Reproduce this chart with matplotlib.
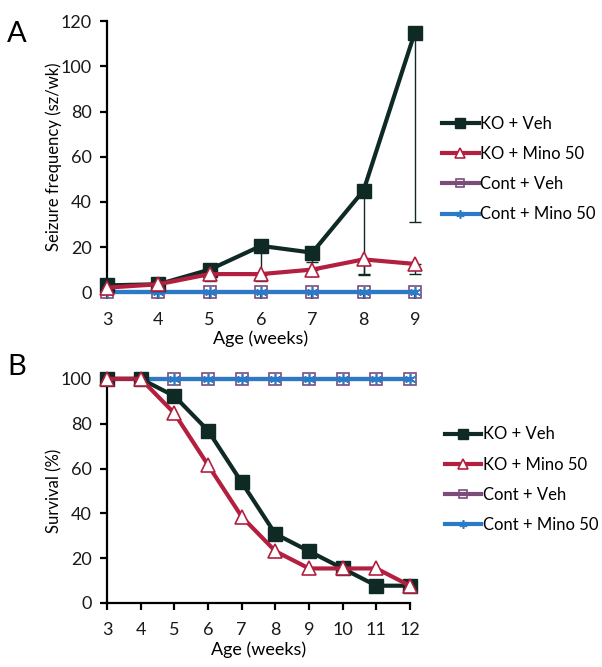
import matplotlib
matplotlib.use("Agg")
from matplotlib import pyplot as plt
import numpy as np

plt.rcParams['font.family'] = ['Lato', 'DejaVu Sans']

# panel A: seizure frequency
weeksA = [3, 4, 5, 6, 7, 8, 9]
koVehA = [3, 3.5, 10, 20.5, 17.5, 45, 115]
koVehA_err = [1, 1, 2, 13, 4, 37, 84]
koMinoA = [2, 3.5, 8, 8, 10, 14.5, 12.5]
koMinoA_err = [1, 1, 3, 3, 3, 7, 4.5]
contVehA = [0, 0, 0, 0, 0, 0, 0]
contMinoA = [0, 0, 0, 0, 0, 0, 0]

# panel B: survival
weeksB = [3, 4, 5, 6, 7, 8, 9, 10, 11, 12]
koVehB = [100, 100, 92.3, 76.9, 53.8, 30.8, 23.1, 15.4, 7.7, 7.7]
koMinoB = [100, 100, 84.6, 61.5, 38.5, 23.1, 15.4, 15.4, 15.4, 7.7]
contVehB = [100] * 10
contMinoB = [100] * 10

labels = ["KO + Veh", "KO + Mino 50", "Cont + Veh", "Cont + Mino 50"]
cVeh = "#0f2a25"
cMino = "#b3203f"
cContVeh = "#7a4d7a"
cContMino = "#2a7ac8"
asterisk = (6, 2, 0)

fig = plt.figure(figsize=(6.02, 6.67), dpi=100)
axA = fig.add_axes([0.178, 0.562, 0.511, 0.406])
axB = fig.add_axes([0.178, 0.096, 0.503, 0.336])


def style(ax):
    for s in ["top", "right"]:
        ax.spines[s].set_visible(False)
    for s in ["left", "bottom"]:
        ax.spines[s].set_linewidth(1.6)
    ax.tick_params(axis="both", direction="out", width=1.6, length=5, labelsize=13,
                   labelcolor="#1a1a1a")
    ax.tick_params(axis="x", pad=9)
    ax.tick_params(axis="y", pad=6)


def draw(ax, x, veh, mino, cveh, cmino, vehErr=None, minoErr=None):
    if vehErr is not None:
        ax.errorbar(x, veh, yerr=[vehErr, np.zeros(len(vehErr))], fmt="none",
                    ecolor=cVeh, elinewidth=1, capsize=4, zorder=3, clip_on=False)
        ax.errorbar(x, mino, yerr=[minoErr, np.zeros(len(minoErr))], fmt="none",
                    ecolor=cVeh, elinewidth=1, capsize=4, zorder=3, clip_on=False)
    ax.plot(x, cveh, color=cContVeh, lw=3, marker="s", ms=8, mfc="none",
            mew=1.2, label=labels[2], zorder=4, clip_on=False)
    ax.plot(x, cmino, color=cContMino, lw=3, marker=asterisk, ms=8,
            mew=1.2, label=labels[3], zorder=5, clip_on=False)
    ax.plot(x, veh, color=cVeh, lw=3, marker="s", ms=9.5,
            label=labels[0], zorder=6, clip_on=False)
    ax.plot(x, mino, color=cMino, lw=3, marker="^", ms=9.5, mfc="white",
            mew=1.2, label=labels[1], zorder=7, clip_on=False)
    h, l = ax.get_legend_handles_labels()
    order = [l.index(s) for s in labels]
    return [h[i] for i in order]


def legend(ax, handles, xpos, ymid):
    ax.legend(handles, labels, loc="center left", bbox_to_anchor=(xpos, ymid), frameon=False,
              fontsize=12, handlelength=2.2, handletextpad=0.1, labelspacing=0.85,
              markerscale=0.75)


hA = draw(axA, weeksA, koVehA, koMinoA, contVehA, contMinoA, koVehA_err, koMinoA_err)
axA.set_xlim(3, 9)
axA.set_ylim(0, 120)
axA.set_xticks(weeksA)
axA.set_yticks(range(0, 121, 20))
axA.set_xlabel("Age (weeks)", fontsize=13, labelpad=2)
axA.set_ylabel("Seizure frequency (sz/wk)", fontsize=12, labelpad=-1)
style(axA)
legend(axA, hA, 1.04, 0.454)

hB = draw(axB, weeksB, koVehB, koMinoB, contVehB, contMinoB)
axB.set_xlim(3, 12)
axB.set_ylim(0, 100)
axB.set_xticks(weeksB)
axB.set_yticks(range(0, 101, 20))
axB.set_xlabel("Age (weeks)", fontsize=13, labelpad=2)
axB.set_ylabel("Survival (%)", fontsize=12, labelpad=-1)
style(axB)
legend(axB, hB, 1.065, 0.55)

fig.text(0.012, 0.968, "A", fontsize=21, va="top")
fig.text(0.012, 0.47, "B", fontsize=21, va="top")

plt.savefig("out.png", dpi=100)
